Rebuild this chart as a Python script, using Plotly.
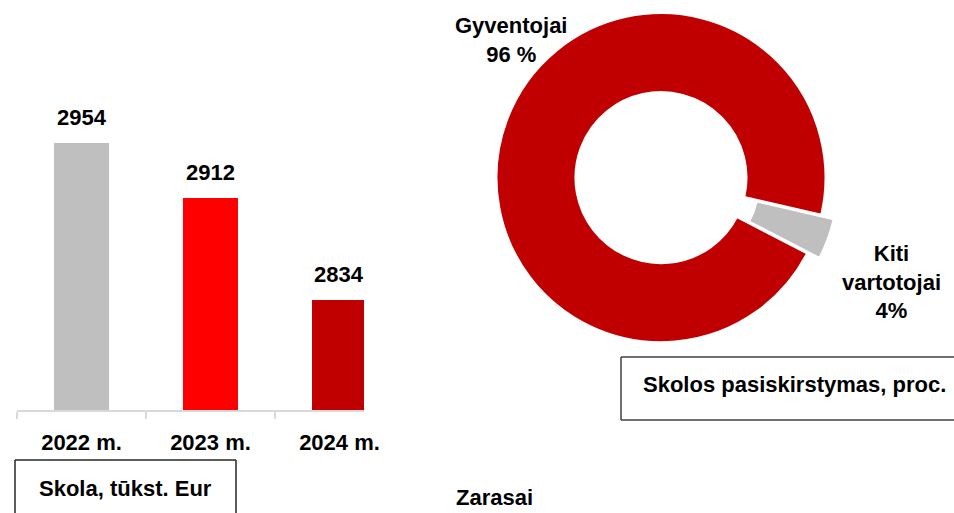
import plotly.graph_objects as go

# ---- data ----
years = ["2022 m.", "2023 m.", "2024 m."]
debt = [2954, 2912, 2834]
bar_colors = ["#BFBFBF", "#FF0000", "#C00000"]

pie_labels = ["Kiti vartotojai", "Gyventojai"]
pie_values = [4, 96]
pie_colors = ["#BFBFBF", "#C00000"]

bar_title = "Skola, tūkst. Eur"
pie_title = "Skolos pasiskirstymas, proc."
map_labels = ["Zarasai", "Pasvalys"]

W, H = 954, 513
FONT = "Liberation Sans Narrow, Arial Narrow, Liberation Sans, Arial, sans-serif"
FS = 22

def px(x):
    return x / W

def py(y):
    return 1 - y / H

fig = go.Figure()

fig.add_trace(go.Bar(
    x=years, y=debt, marker=dict(color=bar_colors, line=dict(width=0)),
    width=0.426, xaxis="x", yaxis="y", showlegend=False, hoverinfo="x+y",
))

fig.add_trace(go.Pie(
    labels=pie_labels, values=pie_values, hole=0.52, sort=False,
    direction="clockwise", rotation=103, pull=[0.08, 0],
    marker=dict(colors=pie_colors, line=dict(color="white", width=2)),
    textinfo="none", showlegend=False, automargin=False,
    domain=dict(x=[px(483.3), px(838.7)], y=[py(355.3), 1.0]),
))

annotations = []
for yr, v in zip(years, debt):
    annotations.append(dict(
        x=yr, y=v, xref="x", yref="y", text=f"<b>{v}</b>", showarrow=False,
        yanchor="middle", yshift=25, font=dict(family=FONT, size=FS, color="black"),
    ))

# pie labels
annotations.append(dict(
    x=px(511), y=py(40), xref="paper", yref="paper",
    text=f"<b>{pie_labels[1]}<br>{pie_values[1]} %</b>", showarrow=False,
    xanchor="center", yanchor="middle", align="center",
    font=dict(family=FONT, size=FS, color="black"),
))
kiti = pie_labels[0].split(" ")
annotations.append(dict(
    x=px(891), y=py(282), xref="paper", yref="paper",
    text=f"<b>{kiti[0]}<br>{kiti[1]}<br>{pie_values[0]}%</b>", showarrow=False,
    xanchor="center", yanchor="middle", align="center",
    font=dict(family=FONT, size=FS, color="black"),
))

# box titles
annotations.append(dict(
    x=px(125), y=py(488), xref="paper", yref="paper", text=f"<b>{bar_title}</b>",
    showarrow=False, xanchor="center", yanchor="middle",
    font=dict(family=FONT, size=FS, color="black"),
))
annotations.append(dict(
    x=px(641), y=py(384), xref="paper", yref="paper", text=f"<b>{pie_title}</b>",
    showarrow=False, xanchor="left", yanchor="middle",
    font=dict(family=FONT, size=FS, color="black"),
))

# clipped map labels at bottom
annotations.append(dict(
    x=px(494), y=py(497), xref="paper", yref="paper", text=f"<b>{map_labels[0]}</b>",
    showarrow=False, xanchor="center", yanchor="middle",
    font=dict(family=FONT, size=FS, color="black"),
))
annotations.append(dict(
    x=px(372), y=py(522), xref="paper", yref="paper", text=f"<b>{map_labels[1]}</b>",
    showarrow=False, xanchor="center", yanchor="middle",
    font=dict(family=FONT, size=FS, color="black"),
))

def seg(x0, y0, x1, y1, color):
    return dict(type="line", xref="paper", yref="paper",
                x0=px(x0), y0=py(y0), x1=px(x1), y1=py(y1),
                line=dict(color=color, width=1.5))

shapes = [
    # bar title box (bottom edge beyond view)
    seg(15, 460, 236, 460, "#262626"),
    seg(15, 460, 15, 513, "#262626"),
    seg(236, 460, 236, 513, "#262626"),
    # pie title box (right edge beyond view)
    seg(621, 357, 954, 357, "#404040"),
    seg(621, 420, 954, 420, "#404040"),
    seg(621, 357, 621, 420, "#404040"),
]

fig.update_layout(
    width=W, height=H, autosize=False,
    margin=dict(l=0, r=0, t=0, b=0, pad=0, autoexpand=False),
    paper_bgcolor="white", plot_bgcolor="white",
    font=dict(family=FONT, size=FS, color="black"),
    xaxis=dict(
        domain=[px(17), px(364)], range=[-0.5, 2.19], type="category",
        showline=True, linecolor="#D9D9D9", linewidth=2,
        ticks="outside", tickson="boundaries", ticklen=7, tickcolor="#D9D9D9", tickwidth=2,
        showgrid=False, zeroline=False, ticklabelstandoff=12, automargin=False,
        tickfont=dict(family=FONT, size=FS, color="black", weight="bold"),
        fixedrange=True,
    ),
    yaxis=dict(
        domain=[py(410), py(43)], range=[2750, 3030], automargin=False,
        visible=False, showgrid=False, zeroline=False, fixedrange=True,
    ),
    annotations=annotations,
    shapes=shapes,
    bargap=0,
)

post = """
(function(){
  var de=document.documentElement, b=document.body;
  de.style.margin='0'; de.style.padding='0'; de.style.overflow='hidden';
  b.style.margin='0'; b.style.padding='0'; b.style.overflow='hidden';
})();
"""

fig.write_html(
    "out.html",
    config={"displayModeBar": False, "responsive": False},
    post_script=post,
)
